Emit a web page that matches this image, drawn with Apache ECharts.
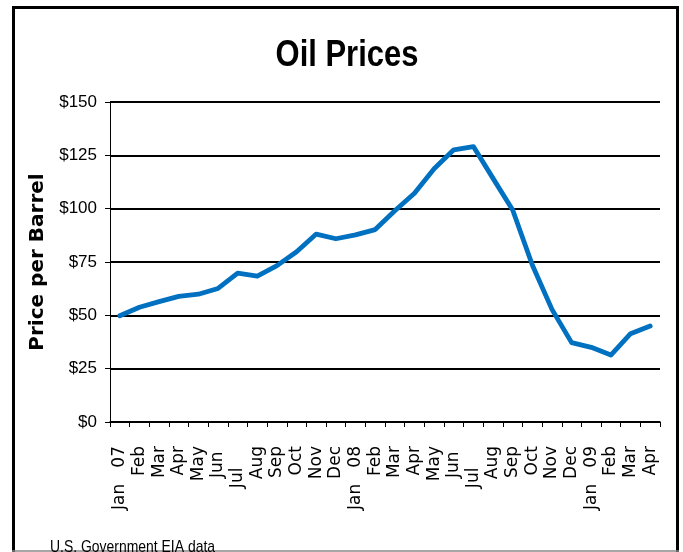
<!DOCTYPE html>
<html>
<head>
<meta charset="utf-8">
<script src="https://cdn.jsdelivr.net/npm/echarts@6/dist/echarts.min.js"></script>
<style>
html,body{margin:0;padding:0;background:#fff;}
#chart{width:683px;height:552px;}
</style>
</head>
<body>
<div id="chart"></div>
<script>
var titleText = 'Oil Prices';
var yAxisName = 'Price per Barrel';
var sourceText = 'U.S. Government EIA data';
var categories = ['Jan   07','Feb','Mar','Apr','May','Jun ','Jul    ','Aug','Sep','Oct','Nov','Dec',
  'Jan   08','Feb','Mar','Apr','May','Jun ','Jul    ','Aug','Sep','Oct','Nov','Dec',
  'Jan   09','Feb','Mar','Apr'];
var prices = [49.8, 53.8, 56.4, 58.9, 59.9, 62.6, 69.8, 68.4, 73.3, 79.8, 88.1, 85.9,
  87.7, 90.2, 99.0, 107.2, 118.7, 127.6, 129.1, 114.2, 99.4, 73.6, 52.8, 37.2,
  35.0, 31.4, 41.4, 45.0];
var yMin = 0, yMax = 150, yStep = 25;

var sans = '"Liberation Sans", Arial, sans-serif';
var chart = echarts.init(document.getElementById('chart'));
chart.setOption({
  animation: false,
  backgroundColor: '#fff',
  grid: {left: 110, right: 23, top: 102, bottom: 130, containLabel: false},
  xAxis: {
    type: 'category',
    data: categories,
    boundaryGap: true,
    axisLine: {lineStyle: {color: '#000', width: 1.5}},
    axisTick: {show: true, interval: 0, length: 5, inside: false, lineStyle: {color: '#000', width: 1}},
    axisLabel: {interval: 0, rotate: 90, margin: 24, fontFamily: '"DejaVu Sans", sans-serif', fontSize: 17, color: '#000'},
    splitLine: {show: false}
  },
  yAxis: {
    type: 'value',
    min: yMin, max: yMax, interval: yStep,
    name: yAxisName,
    nameLocation: 'middle',
    nameRotate: 90,
    nameGap: 58,
    nameTextStyle: {fontFamily: '"DejaVu Sans", sans-serif', fontWeight: 'bold', fontSize: 20, color: '#000'},
    axisLine: {show: true, lineStyle: {color: '#000', width: 1}},
    axisTick: {show: true, length: 5, lineStyle: {color: '#000', width: 1}},
    axisLabel: {formatter: function(v){return '$' + v;}, margin: 13, fontFamily: sans, fontSize: 17, color: '#000'},
    splitLine: {show: true, lineStyle: {color: '#000', width: 2}}
  },
  series: [{
    type: 'line',
    data: prices,
    smooth: false,
    showSymbol: false,
    symbol: 'none',
    lineStyle: {color: '#0070C0', width: 4.8, join: 'round', cap: 'round'},
    z: 5
  }],
  graphic: [
    {type: 'line', shape: {x1: 13.5, y1: 7, x2: 13.5, y2: 552}, style: {stroke: '#000', lineWidth: 3}},
    {type: 'line', shape: {x1: 12, y1: 7.5, x2: 679, y2: 7.5}, style: {stroke: '#000', lineWidth: 3}},
    {type: 'line', shape: {x1: 677.5, y1: 7, x2: 677.5, y2: 552}, style: {stroke: '#000', lineWidth: 3}},
    {type: 'line', shape: {x1: 12, y1: 551, x2: 679, y2: 551}, style: {stroke: '#888', lineWidth: 1.5}},
    {type: 'text', x: 347, y: 56, scaleX: 0.86,
      style: {text: titleText, x: 0, y: 0, textAlign: 'center', textVerticalAlign: 'middle', align: 'center', verticalAlign: 'middle',
        font: 'bold 36px ' + sans, fill: '#000'}},
    {type: 'text', x: 50, y: 539, scaleX: 0.82,
      style: {text: sourceText, x: 0, y: 0, textAlign: 'left', textVerticalAlign: 'top', align: 'left', verticalAlign: 'top',
        font: '17px ' + sans, fill: '#000'}}
  ]
});
</script>
</body>
</html>
